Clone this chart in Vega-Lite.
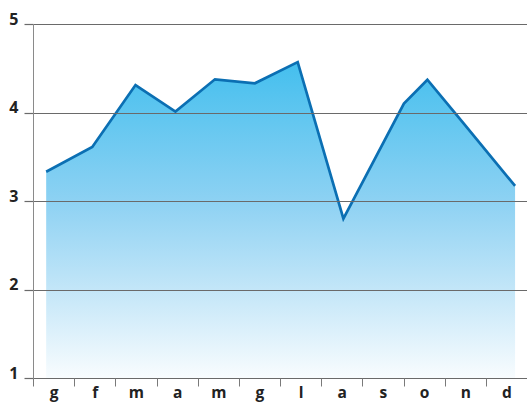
{
  "$schema": "https://vega.github.io/schema/vega-lite/v6.json",
  "width": 494,
  "height": 354,
  "autosize": {"type": "none"},
  "padding": {"left": 33, "top": 24, "right": 0, "bottom": 25},
  "background": "white",
  "config": {"view": {"stroke": null}, "font": "Open Sans"},
  "data": {
    "values": [
      {"mese": "g", "x": 0.82, "v": 3.33},
      {"mese": "f", "x": 1.94, "v": 3.61},
      {"mese": "m", "x": 2.99, "v": 4.31},
      {"mese": "a", "x": 3.96, "v": 4.01},
      {"mese": "m", "x": 4.92, "v": 4.375},
      {"mese": "g", "x": 5.89, "v": 4.33},
      {"mese": "l", "x": 6.93, "v": 4.57},
      {"mese": "a", "x": 8.04, "v": 2.80},
      {"mese": "s", "x": 9.51, "v": 4.10},
      {"mese": "o", "x": 10.08, "v": 4.37},
      {"mese": "n", "x": 10.99, "v": 3.86},
      {"mese": "d", "x": 12.21, "v": 3.17}
    ]
  },
  "encoding": {
    "x": {
      "field": "x",
      "type": "quantitative",
      "scale": {"domain": [0.5, 12.5], "nice": false, "zero": false},
      "axis": {
        "title": null,
        "values": [0.5, 1.5, 2.5, 3.5, 4.5, 5.5, 6.5, 7.5, 8.5, 9.5, 10.5, 11.5],
        "labelExpr": "['g','f','m','a','m','g','l','a','s','o','n','d'][round(datum.value - 0.5)]",
        "labelOffset": 20.6,
        "labelFlush": false,
        "labelOverlap": false,
        "labelFontSize": 15.5,
        "labelFontWeight": "bold",
        "labelColor": "#222222",
        "labelPadding": -1,
        "tickSize": 8,
        "tickColor": "#7a7a7a",
        "tickWidth": 1,
        "domain": false,
        "grid": false,
        "zindex": 1
      }
    },
    "y": {
      "field": "v",
      "type": "quantitative",
      "scale": {"domain": [1, 5], "nice": false, "zero": false},
      "axis": {
        "title": null,
        "values": [1, 2, 3, 4, 5],
        "labelFontSize": 16,
        "labelFontWeight": "bold",
        "labelColor": "#222222",
        "labelBaseline": "alphabetic",
        "labelPadding": 6,
        "tickSize": 9,
        "tickColor": "#6a6a6a",
        "tickWidth": 1.2,
        "domainColor": "#8a8a8a",
        "domainWidth": 1,
        "grid": true,
        "gridColor": "#6a6a6a",
        "gridWidth": 1.2,
        "gridOpacity": 1,
        "zindex": 1
      }
    }
  },
  "layer": [
    {
      "mark": {
        "type": "area",
        "color": {
          "gradient": "linear",
          "x1": 0, "y1": 0, "x2": 0, "y2": 1,
          "stops": [
            {"offset": 0, "color": "#44bfee"},
            {"offset": 0.45, "color": "#8fd2f3"},
            {"offset": 0.72, "color": "#c3e6f8"},
            {"offset": 1, "color": "#f8fcfe"}
          ]
        }
      },
      "encoding": {"y2": {"datum": 1}}
    },
    {
      "mark": {"type": "line", "color": "#0b6fb3", "strokeWidth": 2.7, "strokeJoin": "miter"}
    }
  ]
}
